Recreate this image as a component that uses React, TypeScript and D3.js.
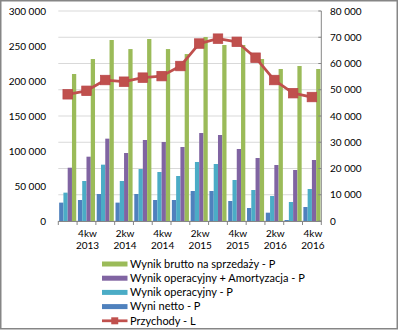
import React from "react";
import * as d3 from "d3";

const categories = ["3kw 2013","4kw 2013","1kw 2014","2kw 2014","3kw 2014","4kw 2014","1kw 2015","2kw 2015","3kw 2015","4kw 2015","1kw 2016","2kw 2016","3kw 2016","4kw 2016"];
const brutto = [56000, 61700, 68950, 65500, 69330, 65500, 63600, 70100, 67050, 67050, 61700, 57900, 59050, 57900];
const opAm = [20300, 24500, 31370, 25900, 30860, 30100, 28190, 33520, 32760, 27430, 24000, 21330, 19430, 23240];
const op = [10800, 15240, 21460, 15240, 19800, 18670, 17140, 22480, 21710, 15620, 11810, 9520, 7240, 12190];
const netto = [7000, 8000, 10290, 7000, 10290, 8000, 8000, 11430, 11430, 7620, 4950, 3170, 380, 5330];
const przychody = [181000, 186000, 201400, 199000, 204800, 207000, 221400, 253500, 260500, 256000, 233300, 201400, 182600, 177100];
const leftTicks = [0, 50000, 100000, 150000, 200000, 250000, 300000];
const rightTicks = [0, 10000, 20000, 30000, 40000, 50000, 60000, 70000, 80000];

const barSeries = [
  { name: "Wyni netto - P", values: netto, color: "#4F81BD" },
  { name: "Wynik operacyjny - P", values: op, color: "#4BACC6" },
  { name: "Wynik operacyjny + Amortyzacja - P", values: opAm, color: "#8064A2" },
  { name: "Wynik brutto na sprzedaży - P", values: brutto, color: "#9BBB59" },
];
const legendOrder = [3, 2, 1, 0];
const lineName = "Przychody - L";
const lineColor = "#C0504D";

const fmt = (v: number) => d3.format(",")(v).replace(/,/g, " ");

export default function App() {
  const W = 398, H = 330;
  const L = 58.3, R = 321.3, T = 11, B = 221;
  const font = "Lato, 'Open Sans', sans-serif";
  const x = d3.scaleBand().domain(categories).range([L, R]).paddingInner(0).paddingOuter(0);
  const step = x.bandwidth();
  const barW = step / 4.4;
  const gapHalf = (step - barW * 4) / 2;
  const yR = d3.scaleLinear().domain([0, 80000]).range([B, T]);
  const yL = d3.scaleLinear().domain([0, 300000]).range([B, T]);
  const line = d3.line<number>().x((_, i) => x(categories[i])! + step / 2).y((d) => yL(d));
  const boundaries = d3.range(categories.length + 1).map((i) => L + i * step);
  const legendX = 102, legendY0 = 264, legendDy = 14.2;

  return (
    <svg width={W} height={H} style={{ position: "absolute", left: 0, top: 0, background: "#fff" }}>
      <rect x={0.75} y={0.75} width={396.5} height={328} fill="#fff" stroke="#868686" strokeWidth={1.5} />
      {rightTicks.map((t) => (
        <line key={"g" + t} x1={L} x2={R} y1={yR(t)} y2={yR(t)} stroke="#D9D9D9" strokeWidth={1} />
      ))}
      {barSeries.map((s, si) =>
        s.values.map((v, i) => (
          <rect key={s.name + i} x={x(categories[i])! + gapHalf + si * barW} y={yR(v)} width={barW} height={B - yR(v)} fill={s.color} />
        ))
      )}
      <line x1={L} x2={R} y1={B + 0.5} y2={B + 0.5} stroke="#868686" strokeWidth={1} />
      {boundaries.map((bx, i) => (
        <line key={"t" + i} x1={bx} x2={bx} y1={B} y2={B + 4} stroke="#868686" strokeWidth={1} />
      ))}
      <line x1={R} x2={R} y1={T} y2={B} stroke="#868686" strokeWidth={1} />
      {rightTicks.map((t) => (
        <line key={"rt" + t} x1={R - 3} x2={R} y1={yR(t)} y2={yR(t)} stroke="#868686" strokeWidth={1} />
      ))}
      <path d={line(przychody) || ""} fill="none" stroke={lineColor} strokeWidth={2.75} strokeLinejoin="round" />
      {przychody.map((v, i) => (
        <rect key={"m" + i} x={x(categories[i])! + step / 2 - 4.75} y={yL(v) - 4.75} width={9.5} height={9.5} fill={lineColor} stroke="#B9474A" strokeWidth={0.75} />
      ))}
      {leftTicks.map((t) => (
        <text key={"lt" + t} x={46} y={yL(t)} dy="0.35em" textAnchor="end" fontFamily={font} fontSize={10} fill="#000">{fmt(t)}</text>
      ))}
      {rightTicks.map((t) => (
        <text key={"rl" + t} x={330} y={yR(t)} dy="0.35em" textAnchor="start" fontFamily={font} fontSize={10} fill="#000">{fmt(t)}</text>
      ))}
      {categories.map((c, i) =>
        i % 2 === 1 ? (
          <text key={"xl" + i} x={x(c)! + step / 2 + 1} y={237} textAnchor="middle" fontFamily={font} fontSize={10} fill="#000">
            <tspan x={x(c)! + step / 2 + 1} dy={0}>{c.split(" ")[0]}</tspan>
            <tspan x={x(c)! + step / 2 + 1} dy={12}>{c.split(" ")[1]}</tspan>
          </text>
        ) : null
      )}
      {legendOrder.map((si, k) => {
        const s = barSeries[si];
        const cy = legendY0 + k * legendDy;
        return (
          <g key={"lg" + k}>
            <rect x={legendX} y={cy - 2.5} width={25.5} height={5} fill={s.color} />
            <text x={130} y={cy} dy="0.35em" fontFamily={font} fontSize={11} fill="#000">{s.name}</text>
          </g>
        );
      })}
      {(() => {
        const cy = legendY0 + 4 * legendDy;
        return (
          <g>
            <line x1={legendX} x2={legendX + 25.5} y1={cy} y2={cy} stroke={lineColor} strokeWidth={2.75} />
            <rect x={legendX + 12.75 - 3.5} y={cy - 3.5} width={7} height={7} fill={lineColor} />
            <text x={130} y={cy} dy="0.35em" fontFamily={font} fontSize={11} fill="#000">{lineName}</text>
          </g>
        );
      })()}
    </svg>
  );
}
